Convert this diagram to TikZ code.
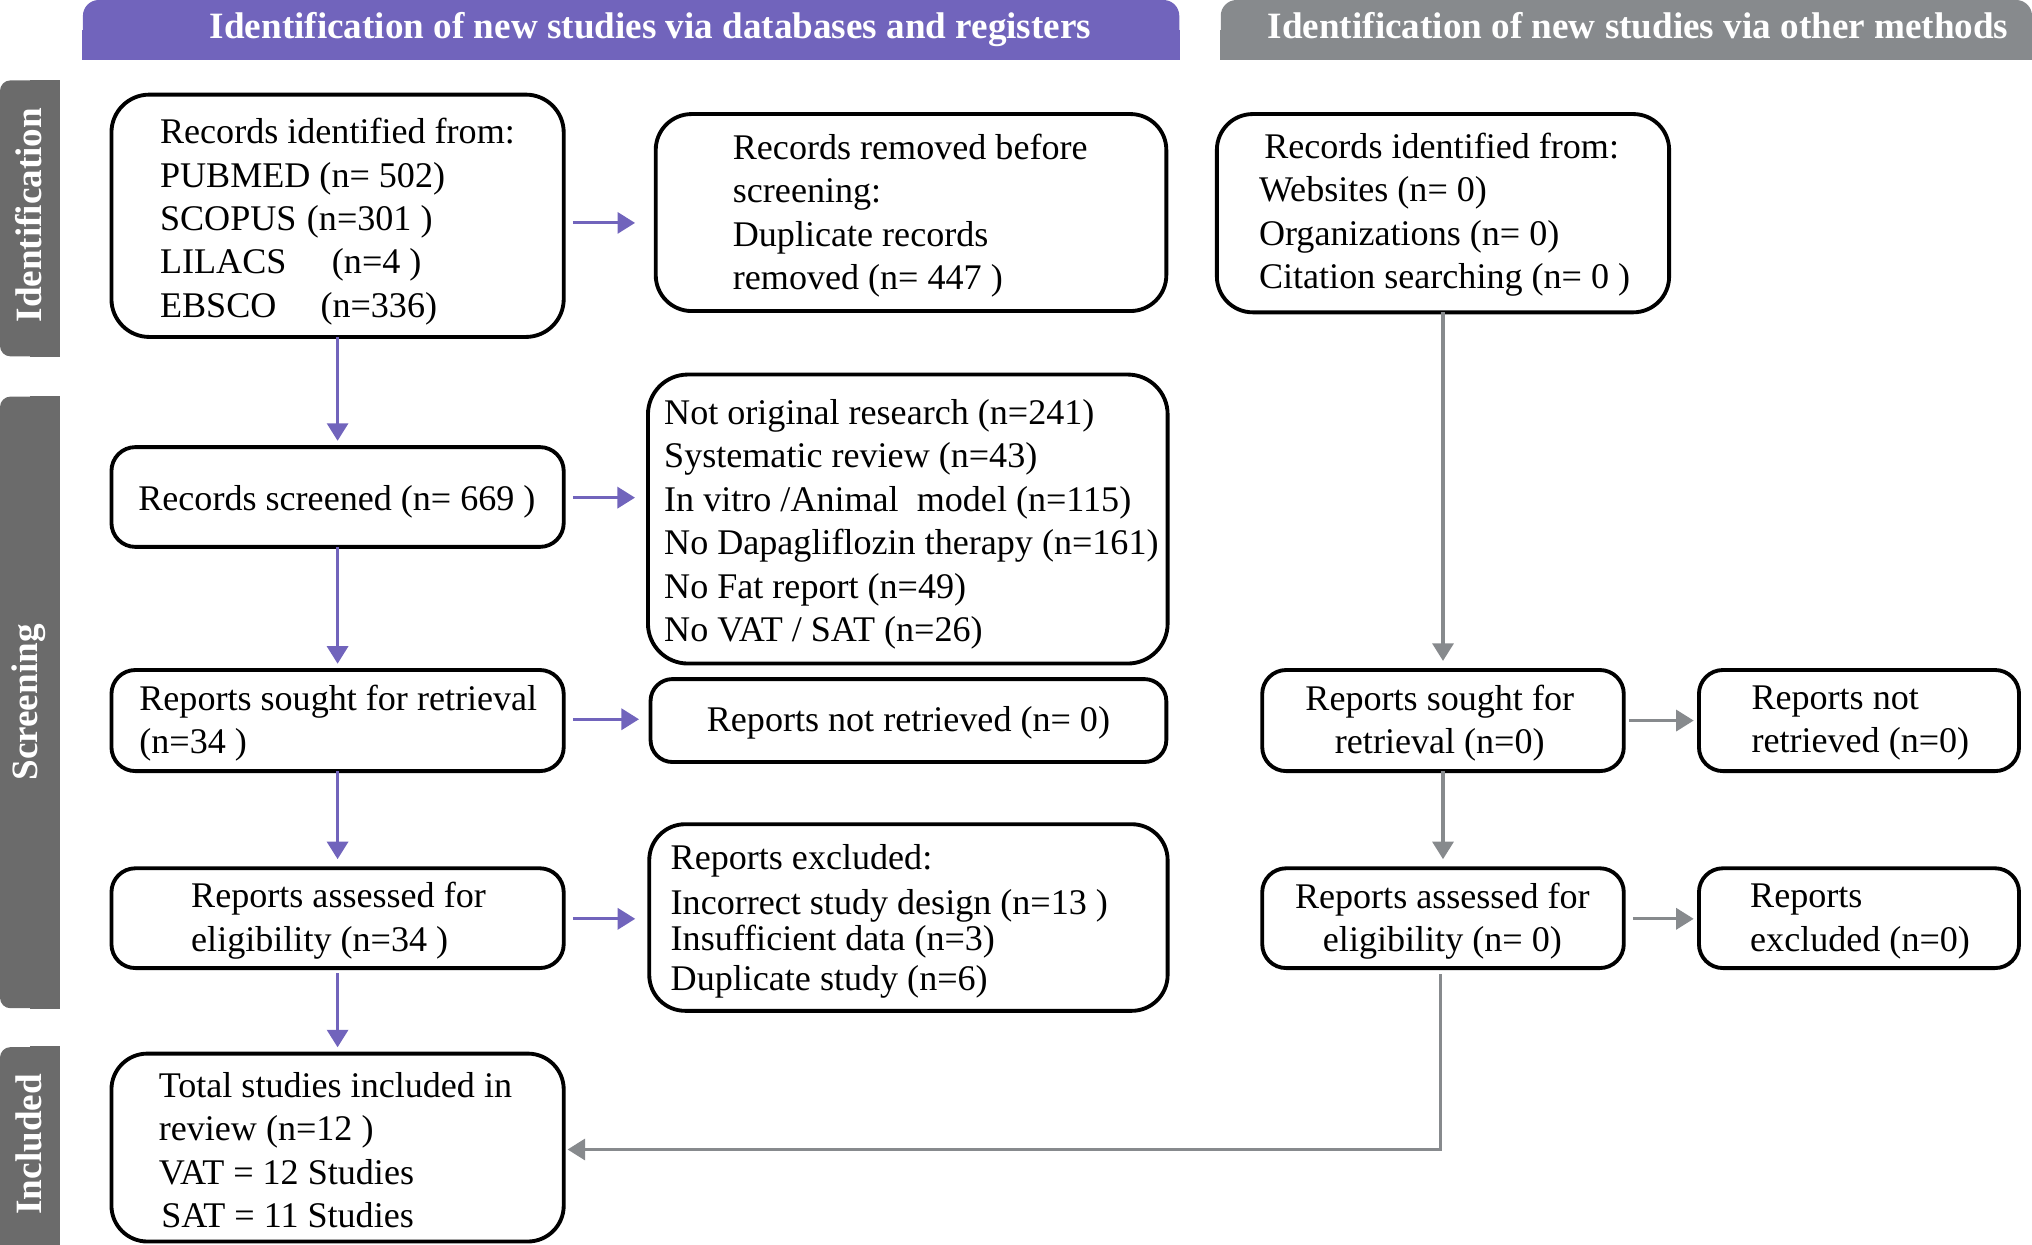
\documentclass[tikz,border=0pt]{standalone}
\usepackage{fontspec}
\setmainfont{Liberation Serif}
\usetikzlibrary{arrows.meta,calc}
\definecolor{hdrP}{HTML}{7164BC}
\definecolor{hdrG}{HTML}{878A8D}
\definecolor{sidebar}{HTML}{6B6B6B}
\newcommand\mkbox[6]{%
  \node[box, rounded corners=#6, minimum width={(#4-#2)*0.013cm}, minimum height={(#5-#3)*0.013cm}] (#1) at ({(#2+#4)/2},{(#3+#5)/2}) {};}
\tikzset{
  box/.style={draw=black, line width=1.1pt, inner sep=0pt, outer sep=0pt},
  txt/.style={inner sep=0pt, align=left, anchor=west, font=\fontsize{10.3}{12.4}\selectfont},
  ctxt/.style={inner sep=0pt, align=center, font=\fontsize{10.3}{12.4}\selectfont},
  hdrtxt/.style={inner sep=0pt, text=white, anchor=base, font=\bfseries\fontsize{10.6}{12}\selectfont},
  sidetxt/.style={inner sep=0pt, text=white, rotate=90, font=\bfseries\fontsize{10.6}{12}\selectfont},
  parr/.style={draw=hdrP, line width=0.9pt, -{Triangle[width=6pt,length=5pt]}},
  garr/.style={draw=hdrG, line width=0.9pt, -{Triangle[width=6pt,length=5pt]}},
}
\begin{document}
\begin{tikzpicture}[x=0.013cm, y=-0.013cm]
\useasboundingbox (0,0) rectangle (1568,960);
% headers
\node[fill=hdrP, inner sep=0pt, rounded corners=4.5pt, minimum width={846*0.013cm}, minimum height={46*0.013cm}] (H1) at (487,23) {};
\fill[hdrP] (H1.west) rectangle (H1.south east);
\node[hdrtxt] (H1t) at (502,30) {Identification of new studies via databases and registers};
\node[fill=hdrG, inner sep=0pt, rounded corners=4.5pt, minimum width={626*0.013cm}, minimum height={46*0.013cm}] (H2) at (1255,23) {};
\fill[hdrG] (H2.west) rectangle (H2.south east);
\node[hdrtxt] (H2t) at (1264,30) {Identification of new studies via other methods};
% side bars
\node[fill=sidebar, inner sep=0pt, rounded corners=3pt, minimum width={46*0.013cm}, minimum height={213*0.013cm}] (S1) at (23,168.5) {};
\fill[sidebar] (S1.north) rectangle (S1.south east);
\node[sidetxt] (S1t) at (22,166) {Identification};
\node[fill=sidebar, inner sep=0pt, rounded corners=3pt, minimum width={46*0.013cm}, minimum height={472*0.013cm}] (S2) at (23,542) {};
\fill[sidebar] (S2.north) rectangle (S2.south east);
\node[sidetxt] (S2t) at (22,542) {Screening};
\node[fill=sidebar, inner sep=0pt, rounded corners=3pt, minimum width={46*0.013cm}, minimum height={160*0.013cm}] (S3) at (23,888) {};
\fill[sidebar] (S3.north) rectangle (S3.south east);
\node[sidetxt] (S3t) at (22,883) {Included};
% boxes
\mkbox{A}{86}{73}{435}{260}{0.38cm}
\mkbox{B}{506}{88}{900}{240}{0.36cm}
\mkbox{C}{939}{88}{1288}{241}{0.36cm}
\mkbox{D}{86}{345}{435}{422}{0.24cm}
\mkbox{E}{500}{289}{901}{512}{0.40cm}
\mkbox{F}{86}{517}{435}{595}{0.24cm}
\mkbox{G}{502}{524}{900}{588}{0.22cm}
\mkbox{H}{974}{517}{1253}{595}{0.24cm}
\mkbox{I}{1311}{517}{1558}{595}{0.24cm}
\mkbox{J}{86}{670}{435}{747}{0.24cm}
\mkbox{K}{501}{636}{901}{780}{0.36cm}
\mkbox{L}{974}{670}{1253}{747}{0.24cm}
\mkbox{M}{1311}{670}{1558}{747}{0.24cm}
\mkbox{N}{86}{813}{435}{958}{0.36cm}
% texts
\node[txt] (At) at (123,171) {Records identified from:\\PUBMED (n= 502)\\SCOPUS\hspace{3pt}(n=301 )\\LILACS\hspace{13pt}(n=4 )\\EBSCO\hspace{12.6pt}(n=336)};
\node[txt] (Bt) at (565,166.5) {Records removed before\\screening:\\Duplicate records\\removed (n= 447 )};
\node[txt] (Ct) at (971,165.5) {\hspace*{1.5pt}Records identified from:\\Websites (n= 0)\\Organizations (n= 0)\\Citation searching (n= 0 )};
\node[ctxt] (Dt) at (260,387) {Records screened (n= 669 )};
\node[txt] (Et) at (512,404.5) {Not original research (n=241)\\Systematic review (n=43)\\In vitro /Animal\ \ model (n=115)\\No Dapagliflozin therapy (n=161)\\No Fat report (n=49)\\No VAT / SAT (n=26)};
\node[txt] (Ft) at (107,558) {Reports sought for retrieval\\(n=34 )};
\node[ctxt] (Gt) at (701,558) {Reports not retrieved (n= 0)};
\node[ctxt] (Ht) at (1111,558) {Reports sought for\\retrieval (n=0)};
\node[txt] (It) at (1351,558) {Reports not\\retrieved (n=0)};
\node[txt] (Jt) at (147,710.5) {Reports assessed for\\eligibility (n=34 )};
\node[txt] (Kt) at (517,711) {Reports excluded:\\[0.5pt]Incorrect study design (n=13 )\\[-2pt]Insufficient data (n=3)\\[-1pt]Duplicate study (n=6)};
\node[ctxt] (Lt) at (1113,711) {Reports assessed for\\eligibility (n= 0)};
\node[txt] (Mt) at (1350,711) {Reports\\excluded (n=0)};
\node[txt] (Nt) at (122,887.5) {Total studies included in\\review (n=12 )\\VAT = 12 Studies\\\hspace*{0.7pt}SAT = 11 Studies};
% purple arrows
\draw[parr, shorten >=1.8pt] (A.south) -- (D.north);
\draw[parr, shorten >=1.8pt] (D.south) -- (F.north);
\draw[parr, shorten >=2.6pt] (F.south) -- (J.north);
\draw[parr, shorten <=1.5pt, shorten >=1.8pt] (J.south) -- (N.north);
\draw[parr, shorten <=2.6pt, shorten >=5.9pt] (A.east |- 0,172) -- (B.west |- 0,172);
\draw[parr, shorten <=2.6pt, shorten >=3.7pt] (D.east |- 0,384) -- (E.west |- 0,384);
\draw[parr, shorten <=2.6pt, shorten >=3.3pt] (F.east |- 0,555) -- (G.west |- 0,555);
\draw[parr, shorten <=2.6pt, shorten >=4pt] (J.east |- 0,709) -- (K.west |- 0,709);
% gray arrows
\draw[garr, shorten >=2.6pt] (C.south) -- (H.north);
\draw[garr, shorten <=1.5pt, shorten >=1.5pt] (H.east |- 0,556) -- (I.west |- 0,556);
\draw[garr, shorten >=2.6pt] (H.south) -- (L.north);
\draw[garr, shorten <=2.6pt, shorten >=1.5pt] (L.east |- 0,709) -- (M.west |- 0,709);
\draw[garr, shorten <=1.8pt, shorten >=1.1pt] ([xshift=-2*0.013cm]L.south) |- (N.east |- 0,887);
\end{tikzpicture}
\end{document}
